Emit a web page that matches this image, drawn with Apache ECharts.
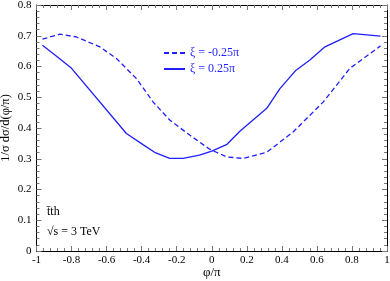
<!DOCTYPE html>
<html><head><meta charset="utf-8">
<script src="https://cdn.jsdelivr.net/npm/echarts@6/dist/echarts.min.js"></script>
<style>html,body{margin:0;padding:0;background:#fff}#c{width:390px;height:281px}</style>
</head><body><div id="c"></div>
<script>
// Series: xi = -0.25 pi (dashed)
var xDashed = [-0.966, -0.867, -0.772, -0.639, -0.544, -0.43, -0.335, -0.24, -0.126, -0.012, 0.086, 0.181, 0.314, 0.466, 0.637, 0.788, 0.963];
var yDashed = [0.689, 0.705, 0.696, 0.664, 0.626, 0.561, 0.485, 0.426, 0.377, 0.331, 0.306, 0.301, 0.321, 0.388, 0.485, 0.594, 0.667];
// Series: xi = 0.25 pi (solid)
var xSolid = [-0.966, -0.88, -0.80, -0.487, -0.39, -0.326, -0.24, -0.164, -0.07, 0.0, 0.087, 0.162, 0.314, 0.39, 0.481, 0.56, 0.646, 0.807, 0.963];
var ySolid = [0.669, 0.631, 0.594, 0.382, 0.345, 0.321, 0.301, 0.301, 0.312, 0.325, 0.347, 0.39, 0.464, 0.529, 0.588, 0.621, 0.664, 0.707, 0.699];
var seriesNames = ['\u03be = -0.25\u03c0', '\u03be = 0.25\u03c0'];
var xTitle = '\u03c6/\u03c0';
var yTitle = '1/\u03c3 d\u03c3/d(\u03c6/\u03c0)';
var noteLines = ['t\u0304th', '\u221as = 3 TeV'];

function pairs(xs, ys){ return xs.map(function(x,i){ return [x, ys[i]]; }); }
var FONT = 'Liberation Serif';
var BLUE = '#1f1fff';
var chart = echarts.init(document.getElementById('c'));
function axisCommon(show){
  return {
    axisLine:{show:true, onZero:false, lineStyle:{color:'#000', width:1}},
    axisTick:{show:true, inside:true, length:5, lineStyle:{color:'#777'}},
    minorTick:{show:true, splitNumber:5, length:3, lineStyle:{color:'#777'}},
    splitLine:{show:false},
    axisLabel:{show:show, color:'#000', fontFamily:FONT, fontSize:11}
  };
}
var xb = Object.assign(axisCommon(true), {type:'value', min:-1, max:1, interval:0.2, position:'bottom',
  name:xTitle, nameLocation:'middle', nameGap:15, nameMoveOverlap:false,
  nameTextStyle:{fontFamily:FONT, fontSize:13, color:'#000'}});
xb.axisLabel.margin = 4;
var xt = Object.assign(axisCommon(false), {type:'value', min:-1, max:1, interval:0.2, position:'top'});
var yl = Object.assign(axisCommon(true), {type:'value', min:0, max:0.8, interval:0.1, position:'left',
  name:yTitle, nameLocation:'middle', nameGap:24, nameMoveOverlap:false,
  nameTextStyle:{fontFamily:FONT, fontSize:12.5, color:'#000'}});
yl.axisLabel.margin = 5;
var yr = Object.assign(axisCommon(false), {type:'value', min:0, max:0.8, interval:0.1, position:'right'});

chart.setOption({
  animation:false,
  grid:{left:36.5, right:3, top:5, bottom:30, containLabel:false, outerBoundsMode:'none'},
  xAxis:[xb, xt],
  yAxis:[yl, yr],
  legend:{
    orient:'vertical', left:158, top:42, itemWidth:21, itemHeight:10, itemGap:4,
    itemStyle:{opacity:0},
    textStyle:{fontFamily:FONT, fontSize:12, color:BLUE},
    data:seriesNames
  },
  graphic:[
    {type:'text', left:47, top:206, style:{text:noteLines[0], font:'12px "Liberation Serif"', fill:'#000'}},
    {type:'text', left:47, top:226, style:{text:noteLines[1], font:'12px "Liberation Serif"', fill:'#000'}}
  ],
  series:[
    {name:seriesNames[0], type:'line', data:pairs(xDashed, yDashed), symbol:'none', smooth:false,
     lineStyle:{color:BLUE, width:1.3, type:[5,3]}, itemStyle:{color:BLUE}},
    {name:seriesNames[1], type:'line', data:pairs(xSolid, ySolid), symbol:'none', smooth:false,
     lineStyle:{color:BLUE, width:1.3, type:'solid'}, itemStyle:{color:BLUE}}
  ]
});
</script></body></html>
